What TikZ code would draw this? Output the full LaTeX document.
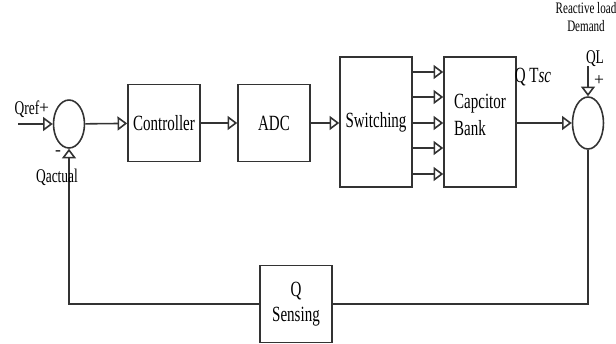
\documentclass[tikz,border=0pt]{standalone}
\usepackage{fontspec}
\usepackage{graphicx}
\setmainfont{Liberation Serif}
\usetikzlibrary{arrows.meta, positioning, shapes.geometric}

% tall, narrow lettering as in the scanned figure
\newcommand{\tallt}[1]{\scalebox{0.9}[1.3]{#1}}

\begin{document}
\begin{tikzpicture}[x=0.02cm, y=-0.02cm,
  block/.style={draw=black!80, line width=0.9pt, minimum width=1.44cm, minimum height=1.54cm, inner sep=1pt, font=\fontsize{9.5}{12}\selectfont},
  sumjn/.style={draw=black!80, ellipse, line width=0.9pt, minimum width=0.62cm, minimum height=0.96cm, inner sep=0pt},
  sig/.style={draw=black!80, line width=0.9pt, -{Triangle[open, length=5.5pt, width=8pt]}},
  wire/.style={draw=black!80, line width=0.9pt},
  lbl/.style={font=\fontsize{8.5}{9}\selectfont, inner sep=0pt}]
  \useasboundingbox (0,0) rectangle (616,343);

  % forward path
  \node[sumjn] (sum1) at (69,124) {};
  \node[block] (ctrl) at (164,123) {\tallt{Controller}};
  \node[block] (adc) at (274,123) {\tallt{ADC}};
  \node[block, minimum height=2.6cm] (sw) at (376,122) {\tallt{Switching}};
  \node[block, minimum height=2.6cm, align=left] (bank) at (480,122) {\raisebox{8pt}{\tallt{Capcitor}}\\[-2pt]\raisebox{8pt}{\tallt{Bank}}};
  \node[sumjn, minimum height=1.04cm] (sum2) at (588,123) {};

  % feedback
  \node[block, align=center] (sense) at (296,304) {\raisebox{-4pt}{\tallt{Q}}\\[0pt]\raisebox{-6pt}{\tallt{Sensing}}};

  \coordinate (qref) at (18,124);
  \coordinate (ql) at (588,66);

  \draw[sig] (qref) -- (sum1.west);
  \draw[sig] (sum1) -- (ctrl);
  \draw[sig] (ctrl) -- (adc);
  \draw[sig] (adc) -- (sw.west |- adc);
  \foreach \yy in {72,97,123,148,174} {
    \coordinate (tap) at (0,\yy);
    \draw[sig] (sw.east |- tap) -- (bank.west |- tap);
  }
  \draw[sig] (bank.east |- sum2) -- (sum2.west);
  \draw[sig] (ql) -- (sum2.north);
  \draw[wire] (sum2.south) |- (sense.east);
  \draw[sig] (sense.west) -| (sum1.south);

  % labels
  \node[lbl] (qreflbl) at (27,109) {\tallt{Qref}};
  \node[lbl, font=\fontsize{10}{10}\selectfont] at (44,109) {+};
  \node[lbl, font=\fontsize{10}{10}\selectfont] at (58,153) {-};
  \node[lbl] (qact) at (57,177) {\tallt{Qactual}};
  \node[lbl, font=\fontsize{9.5}{10}\selectfont] (qtsc) at (533,77) {\tallt{Q T\textit{sc}}};
  \node[lbl] (ql lbl) at (595,59) {\tallt{QL}};
  \node[lbl, font=\fontsize{10}{10}\selectfont] at (599,81) {+};
  \node[lbl, font=\fontsize{7}{8}\selectfont, align=center] (demand) at (586,17) {\tallt{Reactive load}\\[2pt]\tallt{Demand}};
\end{tikzpicture}
\end{document}
